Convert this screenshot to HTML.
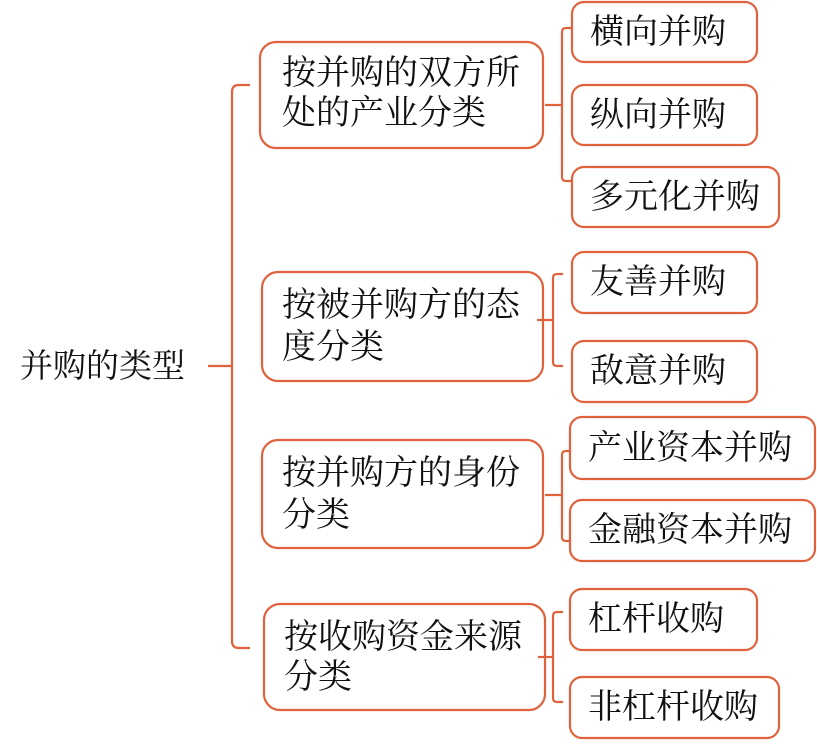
<!DOCTYPE html>
<html><head><meta charset="utf-8"><style>
html,body{margin:0;padding:0;background:#fff;}
svg{display:block;}
text{font-family:"Liberation Serif","Noto Serif CJK SC",serif;font-size:34px;fill:#111;}
</style></head><body>
<svg width="817" height="748" viewBox="0 0 817 748" xmlns="http://www.w3.org/2000/svg">
<g fill="none" stroke="#e0623d" stroke-width="2.2">
<path d="M250 85 H239 Q232 85 232 92 V641 Q232 648 239 648 H250"/>
<path d="M208 366 H232"/>
<rect x="260" y="42" width="283" height="106" rx="16"/>
<rect x="262" y="272" width="281" height="109" rx="16"/>
<rect x="262" y="440" width="281" height="108" rx="16"/>
<rect x="264" y="604" width="281" height="106" rx="16"/>
<rect x="572" y="2" width="185" height="60" rx="12"/>
<rect x="572" y="85" width="185" height="60" rx="12"/>
<rect x="572" y="167" width="207" height="60" rx="12"/>
<rect x="572" y="252" width="185" height="61" rx="12"/>
<rect x="572" y="341" width="185" height="61" rx="12"/>
<rect x="570" y="417" width="245" height="62" rx="12"/>
<rect x="570" y="500" width="245" height="61" rx="12"/>
<rect x="570" y="589" width="187" height="61" rx="12"/>
<rect x="570" y="677" width="209" height="61" rx="12"/>
<path d="M572 28 H566 Q562 28 562 32 V177 Q562 181 566 181 H572"/>
<path d="M545 105 H562"/>
<path d="M563 274 H557 Q553 274 553 278 V362 Q553 366 557 366 H563"/>
<path d="M537 320 H553"/>
<path d="M570 451 H566 Q562 451 562 455 V537 Q562 541 566 541 H570"/>
<path d="M545 495 H562"/>
<path d="M563 612 H557 Q553 612 553 616 V698 Q553 702 557 702 H563"/>
<path d="M538 657 H553"/>
</g>
<text x="20" y="377" style="font-size:33px">并购的类型</text>
<text x="282" y="84">按并购的双方所</text>
<text x="282" y="124">处的产业分类</text>
<text x="282" y="316">按被并购方的态</text>
<text x="282" y="358">度分类</text>
<text x="282" y="484">按并购方的身份</text>
<text x="282" y="526">分类</text>
<text x="284" y="648">按收购资金来源</text>
<text x="284" y="688">分类</text>
<g style="font-size:32px">
<text x="590" y="43">横向并购</text>
<text x="590" y="126">纵向并购</text>
<text x="590" y="208">多元化并购</text>
<text x="590" y="293">友善并购</text>
<text x="590" y="382">敌意并购</text>
<text x="588" y="459">产业资本并购</text>
<text x="588" y="541">金融资本并购</text>
<text x="588" y="630">杠杆收购</text>
<text x="588" y="718">非杠杆收购</text>
</g>
</svg>
</body></html>
